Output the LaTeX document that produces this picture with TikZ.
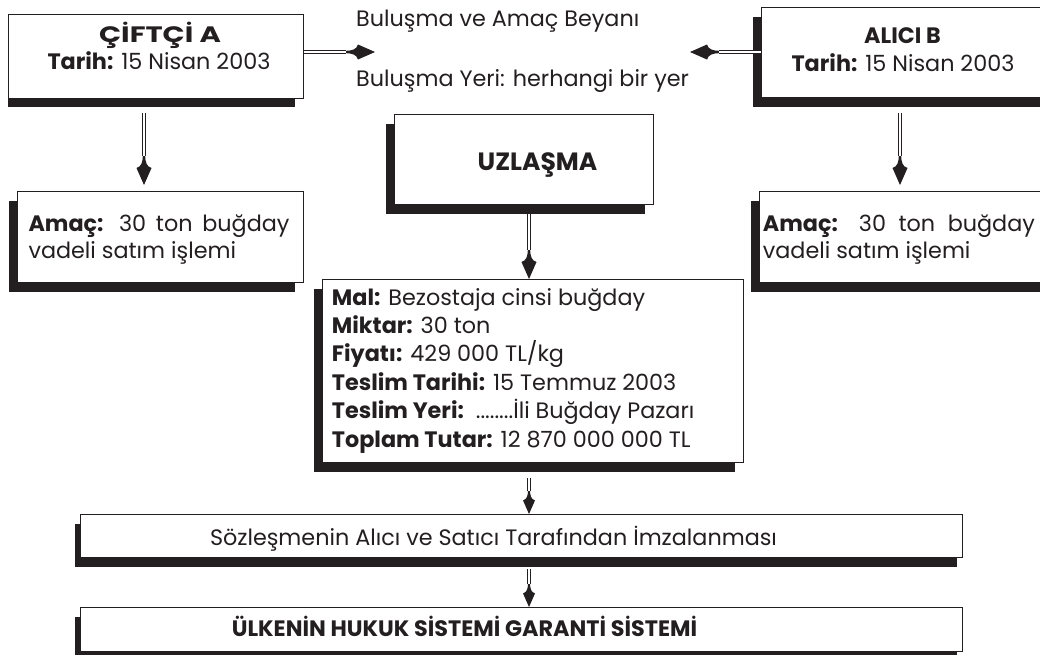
\documentclass[tikz,border=0pt]{standalone}
\usepackage{fontspec}
\usepackage{graphicx}
\setmainfont{Poppins}
\usetikzlibrary{arrows.meta,shadows}
\definecolor{ink}{HTML}{231F20}
\pgfdeclarearrow{
  name = Dart,
  setup code = {
    \pgfarrowssettipend{0pt}
    \pgfarrowssetlineend{-28pt}
    \pgfarrowssetbackend{-30pt}
    \pgfarrowssetvisualbackend{-30pt}
    \pgfarrowshullpoint{0pt}{0pt}
    \pgfarrowshullpoint{-17pt}{7.5pt}
    \pgfarrowshullpoint{-17pt}{-7.5pt}
    \pgfarrowshullpoint{-30pt}{0pt}
  },
  drawing code = {
    \pgfpathmoveto{\pgfpoint{0pt}{0pt}}
    \pgfpathlineto{\pgfpoint{-17pt}{7.5pt}}
    \pgfpathcurveto{\pgfpoint{-18.5pt}{2.4pt}}{\pgfpoint{-23pt}{1.3pt}}{\pgfpoint{-30pt}{1.1pt}}
    \pgfpathlineto{\pgfpoint{-30pt}{-1.1pt}}
    \pgfpathcurveto{\pgfpoint{-23pt}{-1.3pt}}{\pgfpoint{-18.5pt}{-2.4pt}}{\pgfpoint{-17pt}{-7.5pt}}
    \pgfpathclose
    \pgfusepathqfill
  }
}
\pgfdeclarearrow{
  name = DartS,
  setup code = {
    \pgfarrowssettipend{0pt}
    \pgfarrowssetlineend{-22pt}
    \pgfarrowssetbackend{-24pt}
    \pgfarrowssetvisualbackend{-24pt}
    \pgfarrowshullpoint{0pt}{0pt}
    \pgfarrowshullpoint{-13.6pt}{6pt}
    \pgfarrowshullpoint{-13.6pt}{-6pt}
    \pgfarrowshullpoint{-24pt}{0pt}
  },
  drawing code = {
    \pgfpathmoveto{\pgfpoint{0pt}{0pt}}
    \pgfpathlineto{\pgfpoint{-13.6pt}{6pt}}
    \pgfpathcurveto{\pgfpoint{-14.8pt}{2pt}}{\pgfpoint{-18.4pt}{1.1pt}}{\pgfpoint{-24pt}{1pt}}
    \pgfpathlineto{\pgfpoint{-24pt}{-1pt}}
    \pgfpathcurveto{\pgfpoint{-18.4pt}{-1.1pt}}{\pgfpoint{-14.8pt}{-2pt}}{\pgfpoint{-13.6pt}{-6pt}}
    \pgfpathclose
    \pgfusepathqfill
  }
}
\begin{document}
\begin{tikzpicture}[x=1pt,y=-1pt,
  box/.style={draw=ink, line width=1.2pt, fill=white, inner sep=0pt, anchor=north west},
  sh/.style={general shadow={fill=ink, shadow xshift=-9pt, shadow yshift=-9pt}},
  shs/.style={general shadow={fill=ink, shadow xshift=-6pt, shadow yshift=-9pt}},
  txt/.style={font=\fontsize{22.3}{26}\selectfont, text=ink, inner sep=0pt},
  ttl/.style={font=\fontsize{25}{28}\selectfont\bfseries, text=ink, inner sep=0pt},
  arr/.style={color=ink, line width=0.5pt, -{Dart},
    postaction={draw=ink, line width=0.7pt, double=white, double distance=1.8pt, -, shorten >=#1}},
  arr/.default=29pt,
  arrs/.style={color=ink, line width=0.5pt, -{DartS},
    postaction={draw=ink, line width=0.7pt, double=white, double distance=1.8pt, -, shorten >=#1}},
  arrs/.default=23pt
]
\useasboundingbox (0,0) rectangle (1040,654);
\clip (0,0) rectangle (1040,654);

\coordinate (m1) at (375,52);
\coordinate (m2) at (690,52);

% boxes
\fill[ink] (8,98) rectangle (295,107);
\node[box, minimum width=295pt, minimum height=84pt] (A) at (8,14) {};
\node[box, sh, minimum width=290pt, minimum height=90pt] (B) at (761,7) {};
\node[box, sh, minimum width=286pt, minimum height=91pt] (amL) at (17,191) {};
\node[box, sh, minimum width=290pt, minimum height=91pt] (amR) at (759,191) {};
\node[box, sh, minimum width=259pt, minimum height=90pt] (UZ) at (394,114) {};
\node[box, sh, minimum width=421pt, minimum height=183pt] (Mal) at (322,279) {};
\node[box, shs, minimum width=882pt, minimum height=43pt] (Soz) at (80,514) {};
\node[box, shs, minimum width=882pt, minimum height=44pt] (Ulk) at (80,607) {};

% arrows
\draw[arr=35pt, shorten <=14pt, shorten >=6pt] (A.south -| 144,0) -- (amL.north -| 144,0);
\draw[arr=35pt, shorten <=15pt, shorten >=6pt] (B.south -| 900,0) -- (amR.north -| 900,0);
\draw[arr] (A.east |- m1) -- (m1);
\draw[arr] (B.west |- m2) -- (m2);
\draw[arr, shorten <=9pt] (UZ.south -| 529,0) -- (Mal.north -| 529,0);
\draw[arrs, shorten <=15pt] (Mal.south -| 529,0) -- (Soz.north -| 529,0);
\draw[arrs, shorten <=11pt] (Soz.south -| 529,0) -- (Ulk.north -| 529,0);

% texts
\node[txt, anchor=base] (tA1) at (160,42.3) {\scalebox{1.3}[1]{\textbf{ÇİFTÇİ A}}};
\node[txt, anchor=base] (tA2) at (159,69) {\textbf{Tarih:} 15 Nisan 2003};
\node[txt, anchor=base] (tB1) at (902.5,43.3) {\textbf{ALICI B}};
\node[txt, anchor=base] (tB2) at (903,71.7) {\textbf{Tarih:} 15 Nisan 2003};
\node[txt, anchor=base west] (tM1) at (356,26.7) {Buluşma ve Amaç Beyanı};
\node[txt, anchor=base west] (tM2) at (356,86.7) {Buluşma Yeri: herhangi bir yer};
\node[ttl, anchor=base] (tU) at (537.5,170.7) {UZLAŞMA};
\node[txt, anchor=base west] (tL1) at (28.3,231.7) {\makebox[261pt][s]{\textbf{Amaç:} 30 ton buğday}};
\node[txt, anchor=base west] (tL2) at (28.3,258.3) {vadeli satım işlemi};
\node[txt, anchor=base west] (tR1) at (762.7,231.7) {\makebox[272pt][s]{\textbf{Amaç:} 30 ton buğday}};
\node[txt, anchor=base west] (tR2) at (762.7,258.3) {vadeli satım işlemi};
\node[txt, anchor=base west] (k1) at (331.7,305) {\textbf{Mal:} Bezostaja cinsi buğday};
\node[txt, anchor=base west] (k2) at (331.7,333.4) {\textbf{Miktar:} 30 ton};
\node[txt, anchor=base west] (k3) at (331.7,361.8) {\textbf{Fiyatı:} 429 000 TL/kg};
\node[txt, anchor=base west] (k4) at (331.7,390.2) {\textbf{Teslim Tarihi:} 15 Temmuz 2003};
\node[txt, anchor=base west] (k5) at (331.7,418.6) {\textbf{Teslim Yeri:}\ \ ........İli Buğday Pazarı};
\node[txt, anchor=base west] (k6) at (331.7,447) {\textbf{Toplam Tutar:} 12 870 000 000 TL};
\node[txt, anchor=base] (tS) at (493.5,545) {Sözleşmenin Alıcı ve Satıcı Tarafından İmzalanması};
\node[txt, anchor=base] (tG) at (464.5,636) {\textbf{ÜLKENİN HUKUK SİSTEMİ GARANTİ SİSTEMİ}};
\end{tikzpicture}
\end{document}
